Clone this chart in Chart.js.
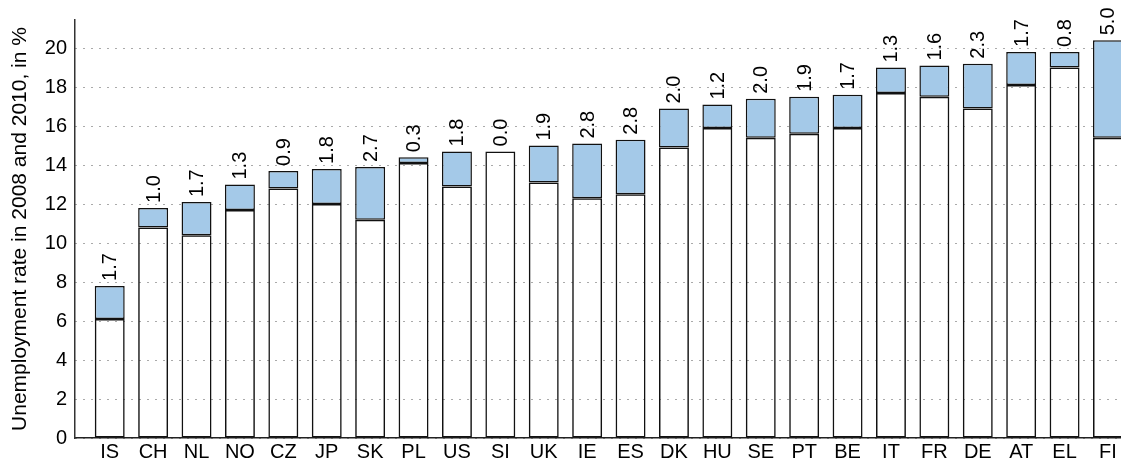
<!DOCTYPE html>
<html>
<head>
<meta charset="utf-8">
<script src="https://cdn.jsdelivr.net/npm/chart.js@4.4.1/dist/chart.umd.min.js"></script>
<style>
  html, body { margin: 0; padding: 0; background: #fff; }
  canvas { display: block; }
</style>
</head>
<body>
<canvas id="chart" width="1121" height="458"></canvas>
<script>
// Countries, ordered by 2010 rate
const countries = ['IS', 'CH', 'NL', 'NO', 'CZ', 'JP', 'SK', 'PL', 'US', 'SI', 'UK', 'IE',
    'ES', 'DK', 'HU', 'SE', 'PT', 'BE', 'IT', 'FR', 'DE', 'AT', 'EL', 'FI'];
// Rate in 2008 (white part)
const rate2008 = [6.1, 10.8, 10.4, 11.7, 12.8, 12.0, 11.2, 14.1, 12.9, 14.7, 13.1, 12.3,
    12.5, 14.9, 15.9, 15.4, 15.6, 15.9, 17.7, 17.5, 16.9, 18.1, 19.0, 15.4];
// Increase 2008 -> 2010 (blue part, also the label)
const increase = [1.7, 1.0, 1.7, 1.3, 0.9, 1.8, 2.7, 0.3, 1.8, 0.0, 1.9, 2.8,
    2.8, 2.0, 1.2, 2.0, 1.9, 1.7, 1.3, 1.6, 2.3, 1.7, 0.8, 5.0];
const yTicks = [0, 2, 4, 6, 8, 10, 12, 14, 16, 18, 20];

const FONT = '"Liberation Sans", Arial, Helvetica, sans-serif';

// Writes the increase, rotated, above each bar
const valueLabels = {
    id: 'valueLabels',
    afterDatasetsDraw(chart) {
        const { ctx, scales: { x, y } } = chart;
        ctx.save();
        ctx.font = '20px ' + FONT;
        ctx.fillStyle = '#000';
        ctx.textAlign = 'left';
        ctx.textBaseline = 'middle';
        increase.forEach((inc, i) => {
            const px = x.getPixelForValue(i);
            const py = y.getPixelForValue(rate2008[i] + inc) - 5;
            ctx.save();
            ctx.translate(px + 1, py);
            ctx.rotate(-Math.PI / 2);
            ctx.fillText(inc.toFixed(1), 0, 0);
            ctx.restore();
        });
        ctx.restore();
    }
};

const ctx = document.getElementById('chart').getContext('2d');
new Chart(ctx, {
    type: 'bar',
    data: {
        datasets: [
            {
                label: '2008',
                data: rate2008.map((v, i) => ({ x: i, y: v })),
                backgroundColor: 'rgba(0,0,0,0)',
                borderColor: '#111',
                borderWidth: 1.5,
                borderSkipped: false,
                barPercentage: 0.69,
                categoryPercentage: 1
            },
            {
                label: 'Increase to 2010',
                data: increase.map((v, i) => ({ x: i, y: v })),
                backgroundColor: '#a4c9e8',
                borderColor: '#111',
                borderWidth: { top: 1.5, left: 1.5, right: 1.5, bottom: 1.5 },
                borderSkipped: false,
                barPercentage: 0.69,
                categoryPercentage: 1
            }
        ]
    },
    options: {
        responsive: false,
        animation: false,
        layout: { padding: { top: 18, right: 0, left: 0, bottom: 0 } },
        scales: {
            x: {
                type: 'linear',
                stacked: true,
                min: -0.8,
                max: 23.3,
                offset: false,
                grid: { display: false, drawTicks: false },
                border: { color: '#222', width: 1.5 },
                afterBuildTicks: (scale) => { scale.ticks = countries.map((c, i) => ({ value: i })); },
                afterFit: (scale) => { scale.height = 20; },
                ticks: {
                    autoSkip: false,
                    maxRotation: 0,
                    padding: 2,
                    color: '#000',
                    font: { family: FONT, size: 20 },
                    callback: (v) => countries[v]
                }
            },
            y: {
                stacked: true,
                min: 0,
                max: 21.44,
                afterBuildTicks: (scale) => { scale.ticks = yTicks.map(v => ({ value: v })); },
                afterFit: (scale) => { scale.width = 75; },
                grid: {
                    color: '#555',
                    lineWidth: 1,
                    drawTicks: false
                },
                // dash applies to the grid lines, not the axis line
                border: { color: '#333', width: 1.5, dash: [1, 7] },
                ticks: {
                    padding: 8,
                    color: '#000',
                    font: { family: FONT, size: 20 }
                },
                title: {
                    display: true,
                    text: 'Unemployment rate in 2008 and 2010, in %',
                    color: '#000',
                    font: { family: FONT, size: 21 },
                    padding: { top: 8, bottom: 0 }
                }
            }
        },
        plugins: {
            legend: { display: false },
            tooltip: { enabled: false }
        }
    },
    plugins: [valueLabels]
});
</script>
</body>
</html>
